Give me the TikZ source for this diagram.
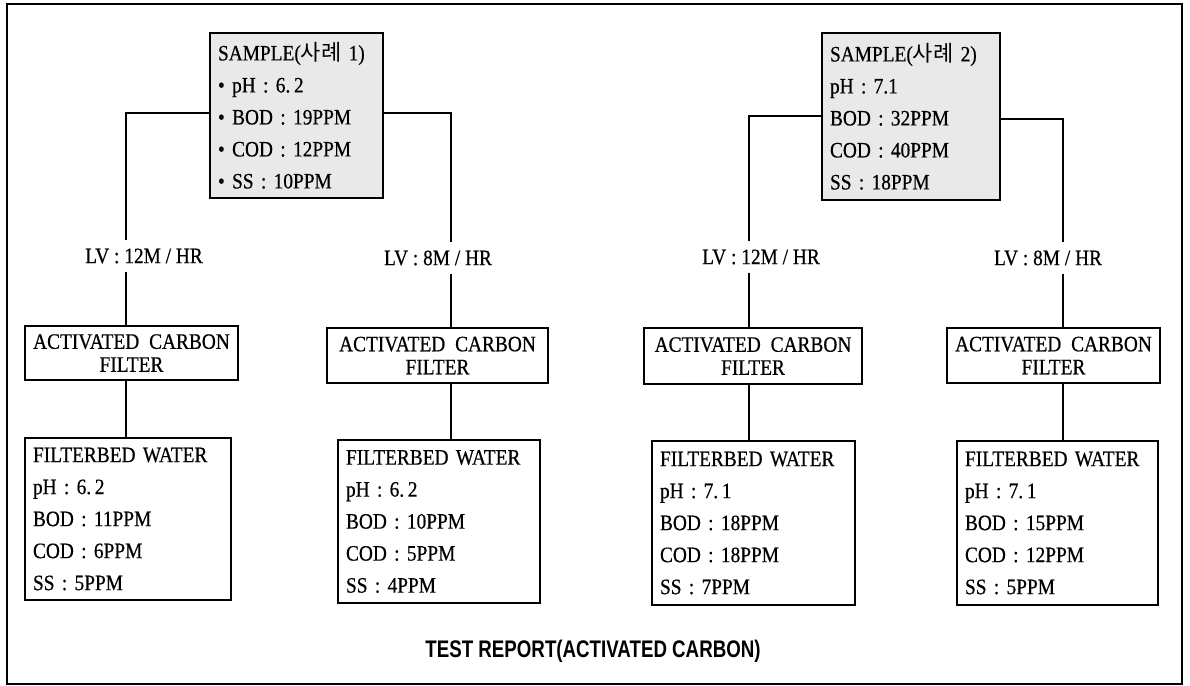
\documentclass[tikz,border=0pt]{standalone}
\usepackage{fontspec}
\setmainfont{Liberation Serif}[FakeStretch=0.88,FakeBold=0.5]
\newfontfamily\kr{Noto Sans CJK KR}
\newfontfamily\titlefont{Liberation Sans}[FakeStretch=0.78]
\begin{document}
\begin{tikzpicture}[x=1pt,y=-1pt,
  wire/.style={line width=1.3pt},
  boxline/.style={draw, line width=1.3pt},
  databox/.style={boxline, align=left, inner xsep=8pt, inner ysep=0pt,
    font=\fontsize{22}{32}\selectfont},
  sampbox/.style={databox, fill=gray!17},
  filterbox/.style={boxline, align=center, inner sep=0pt,
    font=\fontsize{22}{23}\selectfont},
  lvlabel/.style={inner xsep=2pt, inner ysep=8pt, font=\fontsize{22}{22}\selectfont},
  titlelabel/.style={font=\titlefont\bfseries\fontsize{24}{26}\selectfont}
]
\useasboundingbox (0,0) rectangle (1190,685);
\draw[line width=1.2pt] (7,4) rectangle (1182,684);

% sample boxes
\node[sampbox, text width=157pt, minimum height=165pt] (s1) at (296.5,115.5)
  {SAMPLE({\kr 사례} 1)\\
   \textbullet\ pH : 6.\,2\\
   \textbullet\ BOD : 19PPM\\
   \textbullet\ COD : 12PPM\\
   \textbullet\ SS : 10PPM};
\node[sampbox, text width=162pt, minimum height=167pt] (s2) at (911,116.5)
  {SAMPLE({\kr 사례} 2)\\
   pH : 7.1\\
   BOD : 32PPM\\
   COD : 40PPM\\
   SS : 18PPM};

% LV labels
\node[lvlabel] (lv1) at (144,256) {LV : 12M / HR};
\node[lvlabel] (lv2) at (438,258) {LV : 8M / HR};
\node[lvlabel] (lv3) at (761,257) {LV : 12M / HR};
\node[lvlabel] (lv4) at (1048,258) {LV : 8M / HR};

% filters
\node[filterbox, minimum width=213pt, minimum height=54pt] (f1) at (131.5,353)
  {ACTIVATED\hspace{0.45em}CARBON\\FILTER};
\node[filterbox, minimum width=221pt, minimum height=55pt] (f2) at (437.5,355.5)
  {ACTIVATED\hspace{0.45em}CARBON\\FILTER};
\node[filterbox, minimum width=218pt, minimum height=56pt] (f3) at (753,356)
  {ACTIVATED\hspace{0.45em}CARBON\\FILTER};
\node[filterbox, minimum width=213pt, minimum height=55pt] (f4) at (1053.5,355.5)
  {ACTIVATED\hspace{0.45em}CARBON\\FILTER};

% filterbed water boxes
\node[databox, text width=190pt, minimum height=162pt] (w1) at (128,519)
  {FILTERBED WATER\\ pH : 6.\,2\\ BOD : 11PPM\\ COD : 6PPM\\ SS : 5PPM};
\node[databox, text width=186pt, minimum height=163pt] (w2) at (439,521.5)
  {FILTERBED WATER\\ pH : 6.\,2\\ BOD : 10PPM\\ COD : 5PPM\\ SS : 4PPM};
\node[databox, text width=187pt, minimum height=164pt] (w3) at (753.5,523)
  {FILTERBED WATER\\ pH : 7.\,1\\ BOD : 18PPM\\ COD : 18PPM\\ SS : 7PPM};
\node[databox, text width=185pt, minimum height=164pt] (w4) at (1057.5,523)
  {FILTERBED WATER\\ pH : 7.\,1\\ BOD : 15PPM\\ COD : 12PPM\\ SS : 5PPM};

% title
\node[titlelabel] (title) at (593,651) {TEST REPORT(ACTIVATED CARBON)};

% connectors
\coordinate (c1) at (126,113);
\coordinate (c2) at (451,113);
\coordinate (c3) at (749,116);
\coordinate (c4) at (1063,119);

\draw[wire] (s1.west |- c1) -- (c1) -- (c1 |- lv1.north);
\draw[wire] (c1 |- lv1.south) -- (c1 |- f1.north);
\draw[wire] (c1 |- f1.south) -- (c1 |- w1.north);

\draw[wire] (s1.east |- c2) -- (c2) -- (c2 |- lv2.north);
\draw[wire] (c2 |- lv2.south) -- (c2 |- f2.north);
\draw[wire] (c2 |- f2.south) -- (c2 |- w2.north);

\draw[wire] (s2.west |- c3) -- (c3) -- (c3 |- lv3.north);
\draw[wire] (c3 |- lv3.south) -- (c3 |- f3.north);
\draw[wire] (c3 |- f3.south) -- (c3 |- w3.north);

\draw[wire] (s2.east |- c4) -- (c4) -- (c4 |- lv4.north);
\draw[wire] (c4 |- lv4.south) -- (c4 |- f4.north);
\draw[wire] (c4 |- f4.south) -- (c4 |- w4.north);
\end{tikzpicture}
\end{document}
